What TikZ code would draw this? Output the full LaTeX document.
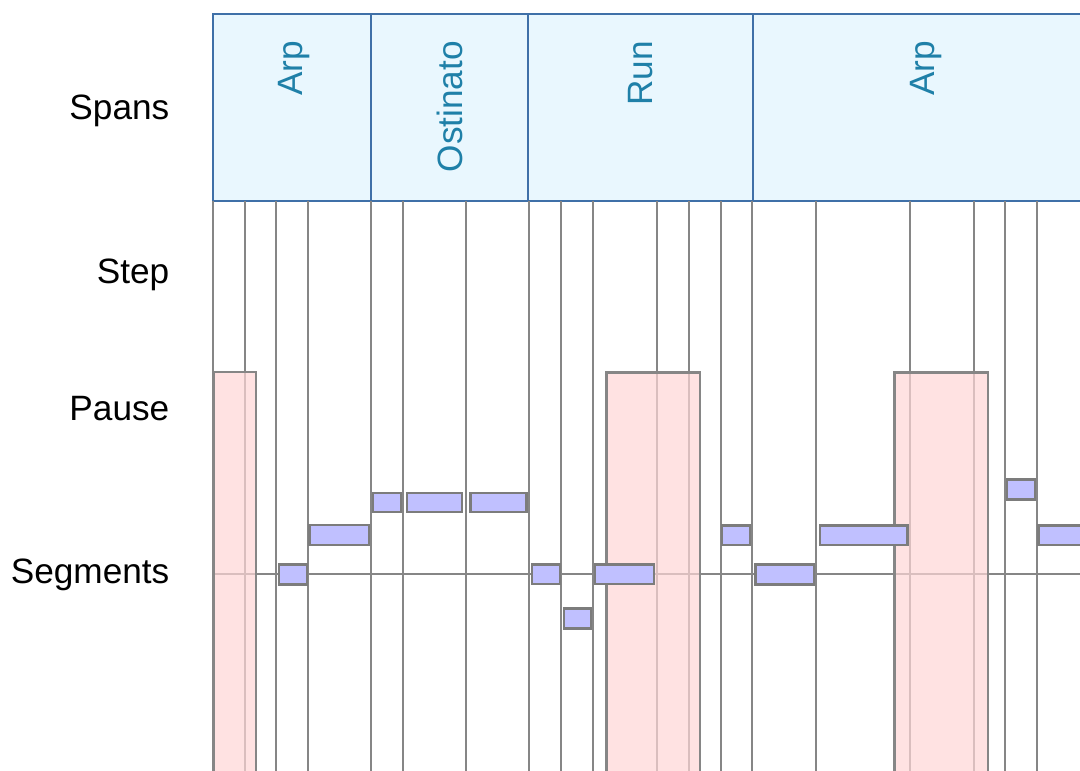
\documentclass[tikz,border=0pt]{standalone}
\usepackage{fontspec}
\setmainfont{Liberation Sans}
\definecolor{spanfill}{HTML}{E9F7FE}
\definecolor{spanline}{HTML}{3F70A8}
\definecolor{spantext}{HTML}{1F80A8}
\definecolor{gridgray}{HTML}{868686}
\definecolor{pausefill}{HTML}{FFD6D6}
\definecolor{segfill}{HTML}{C0C0FF}
\definecolor{segline}{HTML}{7C7C7C}
\tikzset{
  labelfont/.style={font=\fontsize{35.2}{40}\selectfont},
  rowlabel/.style={labelfont, anchor=base east, inner sep=0pt, text=black},
  spanlabel/.style={labelfont, rotate=90, anchor=base east, inner sep=0pt, text=spantext},
  gridline/.style={draw=gridgray, line width=2pt},
  pausebox/.style={fill=pausefill, fill opacity=0.7, draw=gridgray, line width=2.2pt},
  segbox/.style={fill=segfill, draw=segline, line width=2.4pt},
  spanbox/.style={fill=spanfill, draw=spanline, line width=2pt},
}
\begin{document}
\begin{tikzpicture}[x=1pt, y=-1pt]
  \useasboundingbox (0,0) rectangle (1080,771);
  \clip (0,0) rectangle (1080,771);

  % row labels
  \node[rowlabel] (lspans) at (169.5,119) {Spans};
  \node[rowlabel] (lstep) at (169.5,283) {Step};
  \node[rowlabel] (lpause) at (169.5,420.5) {Pause};
  \node[rowlabel] (lsegs) at (169.5,583.5) {Segments};

  % spans band
  \draw[spanbox] (213,14) rectangle (1090,201);
  \foreach \x in {370.5, 527.5, 753}
    \draw[draw=spanline, line width=2pt] (\x,14) -- (\x,201);
  \node[spanlabel] (sp1) at (302.5,41) {Arp};
  \node[spanlabel] (sp2) at (462.5,41) {Ostinato};
  \node[spanlabel] (sp3) at (652.5,41) {Run};
  \node[spanlabel] (sp4) at (934,41) {Arp};

  % step grid
  \foreach \x in {213, 244.5, 276.3, 307.8, 370.8, 402.7, 466, 528.5, 561,
                  593, 656.5, 688.5, 720.5, 752, 815.5, 910, 973.5, 1005.3, 1036.5}
    \draw[gridline] (\x,201) -- (\x,775);

  % segment baseline
  \draw[gridline] (213,574) -- (1085,574);

  % pauses
  \draw[pausebox] (214,372) rectangle (256,780);
  \draw[pausebox] (606.5,372.5) rectangle (700,780);
  \draw[pausebox] (894.5,372.5) rectangle (988,780);

  % segments
  \draw[segbox] (278.7,564.3) rectangle (306.7,584.3);
  \draw[segbox] (309.5,525.2) rectangle (369,545);
  \draw[segbox] (372.7,492.7) rectangle (400.7,512);
  \draw[segbox] (407,492.7) rectangle (462,512);
  \draw[segbox] (470.3,492.7) rectangle (526.3,512);
  \draw[segbox] (532,564.3) rectangle (559.7,584);
  \draw[segbox] (563.7,608.3) rectangle (591,628.3);
  \draw[segbox] (594.7,564.3) rectangle (654,584);
  \draw[segbox] (722,525.3) rectangle (749.7,545);
  \draw[segbox] (755.3,564.3) rectangle (814,584.5);
  \draw[segbox] (819.7,525.3) rectangle (907.3,545);
  \draw[segbox] (1006.7,479.3) rectangle (1034.7,499.3);
  \draw[segbox] (1038.3,525.3) rectangle (1100,545);
\end{tikzpicture}
\end{document}
